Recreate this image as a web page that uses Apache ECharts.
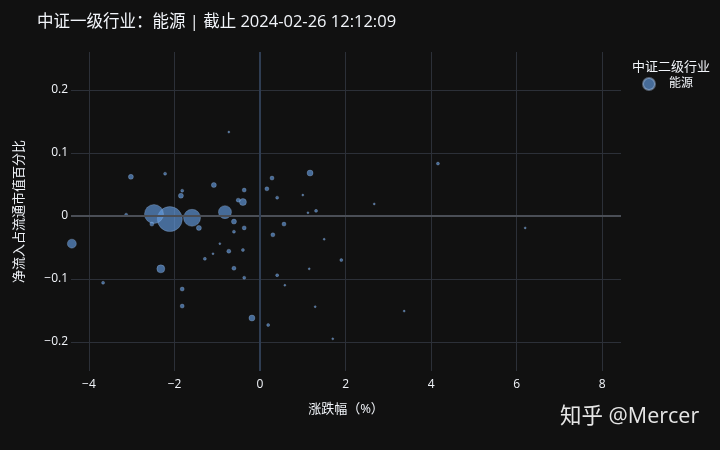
<!DOCTYPE html>
<html><head><meta charset="utf-8">
<script src="https://cdn.jsdelivr.net/npm/echarts@6/dist/echarts.min.js"></script>
<style>html,body{margin:0;padding:0;background:#111111}#c{width:720px;height:450px}</style>
</head><body><div id="c"></div>
<script>
const titleText = '中证一级行业：能源 | 截止 2024-02-26 12:12:09';
const legendTitle = '中证二级行业';
const seriesName = '能源';
const xTicks = [-4, -2, 0, 2, 4, 6, 8];
const yTicks = [-0.2, -0.1, 0, 0.1, 0.2];
// 涨跌幅 (%)
const changePct = [-2.11,-2.48,-1.59,-0.82,-2.32,-0.19,1.17,-0.40,-4.40,-3.02,-2.22,-1.08,-1.82,-1.85,-0.37,-0.51,-3.13,-1.43,-0.61,-0.37,-0.61,-0.73,-1.29,-0.40,-0.61,-0.37,-3.67,-1.82,-1.82,-1.10,0.28,0.16,0.40,1.00,1.12,1.31,0.56,2.67,0.30,1.50,1.90,1.15,0.40,0.58,1.29,0.19,1.70,4.16,3.37,6.20,-2.53,-0.94,-0.73];
// 净流入占流通市值百分比
const inflowPct = [-0.005,0.003,-0.003,0.006,-0.084,-0.162,0.068,0.022,-0.044,0.062,0.067,0.049,0.040,0.032,0.041,0.025,0.002,-0.019,-0.009,-0.019,-0.025,-0.056,-0.068,-0.054,-0.083,-0.098,-0.106,-0.116,-0.143,-0.060,0.060,0.043,0.029,0.033,0.005,0.008,-0.013,0.019,-0.030,-0.037,-0.070,-0.084,-0.094,-0.110,-0.144,-0.173,-0.195,0.083,-0.151,-0.019,-0.013,-0.044,0.133];
// bubble size (relative market value)
const bubbleSize = [25,19,17,13,8,6,6,7,9,5,3,5,3,5,4,4,3,5,5,4,3,4,3,3,4,3,3,4,4,2,4,4,3,2,2,3,4,2,4,2,3,2,3,2,2,3,2,3,2,2,4,2,2];

const pts = changePct.map((x, i) => [x, inflowPct[i], bubbleSize[i]]);
const fmt = v => (v < 0 ? '\u2212' + String(Math.abs(v)) : String(v));
const font = '"Open Sans", "Noto Sans CJK SC", sans-serif';
const chart = echarts.init(document.getElementById('c'), null, {renderer: 'canvas'});
chart.setOption({
  backgroundColor: '#111111',
  animation: false,
  textStyle: {fontFamily: font},
  title: [
    {text: titleText, left: 32, top: 9, textStyle: {color: '#f2f5fa', fontSize: 16.5, fontWeight: 'normal', fontFamily: font}},
    {text: legendTitle, left: 627, top: 56, textStyle: {color: '#f2f5fa', fontSize: 13, fontWeight: 'normal', fontFamily: font}}
  ],
  legend: {
    left: 637, top: 72, icon: 'circle', itemWidth: 12, itemHeight: 12,
    textStyle: {color: '#f2f5fa', fontSize: 12, fontFamily: font, padding: [0, 0, 0, 9]},
    data: [seriesName]
  },
  grid: {left: 71, right: 99, top: 52, bottom: 79},
  xAxis: {
    type: 'value', min: -4.42, max: 8.44,
    name: '涨跌幅（%）', nameLocation: 'middle', nameGap: 32,
    nameTextStyle: {color: '#f2f5fa', fontSize: 13, fontFamily: font},
    axisLine: {show: false}, axisTick: {show: false, customValues: xTicks},
    axisLabel: {customValues: xTicks, color: '#f2f5fa', fontSize: 12, margin: 8, formatter: fmt},
    splitLine: {show: true, lineStyle: {color: '#2c3038', width: 1}}
  },
  yAxis: {
    type: 'value', min: -0.246, max: 0.26,
    name: '净流入占流通市值百分比', nameLocation: 'middle', nameGap: 45, nameRotate: 90,
    nameTextStyle: {color: '#f2f5fa', fontSize: 13, fontFamily: font},
    axisLine: {show: false}, axisTick: {show: false, customValues: yTicks},
    axisLabel: {customValues: yTicks, color: '#f2f5fa', fontSize: 12, margin: 3, formatter: fmt},
    splitLine: {show: true, lineStyle: {color: '#2c3038', width: 1}}
  },
  graphic: [
    {type: 'text', left: 560, top: 406, style: {text: '知乎 @Mercer', fill: '#e6e6e6', fontSize: 21.5, fontFamily: font}}
  ],
  series: [
    {
      type: 'scatter', name: '_zero', data: [], silent: true, z: 1,
      markLine: {
        silent: true, symbol: 'none', label: {show: false},
        data: [
          {yAxis: 0, lineStyle: {color: '#4a4e56', width: 2, type: 'solid'}},
          {xAxis: 0, lineStyle: {color: '#2f3d52', width: 2, type: 'solid'}}
        ]
      }
    },
    {
      type: 'scatter', name: seriesName, z: 3,
      data: pts,
      symbolSize: d => d[2],
      itemStyle: {color: 'rgba(100,155,225,0.82)', borderColor: 'rgba(175,200,235,0.55)', borderWidth: 0.6}
    }
  ]
});
</script></body></html>
